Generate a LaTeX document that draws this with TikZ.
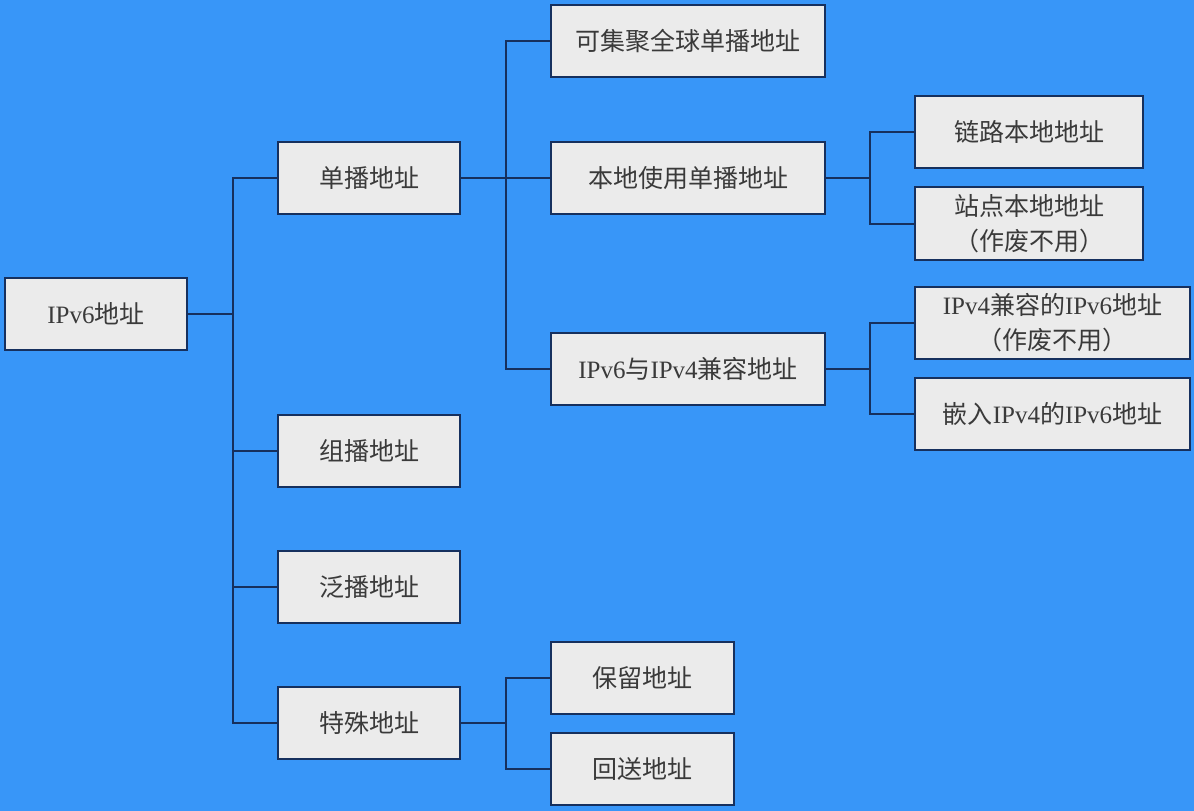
\documentclass[tikz,border=0pt]{standalone}
\usepackage{fontspec}
\setmainfont{Noto Sans CJK SC}
\newfontfamily\enf{Liberation Serif}
\newcommand\en[1]{{\enf #1}}
\definecolor{bg}{HTML}{3896F8}
\definecolor{boxfill}{HTML}{EBEBEB}
\definecolor{edge}{HTML}{16305E}
\definecolor{txt}{HTML}{3A3A3A}
\tikzset{
  box/.style={draw=edge, line width=2pt, fill=boxfill, text=txt, inner sep=0pt,
    align=center, font=\fontsize{25}{35}\selectfont},
  link/.style={draw=edge, line width=2pt},
}
\begin{document}
\begin{tikzpicture}[x=1pt,y=-1pt]
\fill[bg] (0,0) rectangle (1194,811);
\useasboundingbox (0,0) rectangle (1194,811);
% level 0
\node[box, minimum width=182pt, minimum height=72pt] (root) at (96,314) {\en{IPv6}地址};
% level 1
\node[box, minimum width=182pt, minimum height=72pt] (uni) at (369,178) {单播地址};
\node[box, minimum width=182pt, minimum height=72pt] (multi) at (369,451) {组播地址};
\node[box, minimum width=182pt, minimum height=72pt] (any) at (369,587) {泛播地址};
\node[box, minimum width=182pt, minimum height=72pt] (spec) at (369,723) {特殊地址};
% level 2
\node[box, minimum width=274pt, minimum height=72pt] (glob) at (688,41) {可集聚全球单播地址};
\node[box, minimum width=274pt, minimum height=72pt] (local) at (688,178) {本地使用单播地址};
\node[box, minimum width=274pt, minimum height=72pt] (compat) at (688,369) {\en{IPv6}与\en{IPv4}兼容地址};
\node[box, minimum width=183pt, minimum height=72pt] (resv) at (642.5,678) {保留地址};
\node[box, minimum width=183pt, minimum height=72pt] (loop) at (642.5,769) {回送地址};
% level 3
\node[box, minimum width=228pt, minimum height=72pt] (link) at (1029,132) {链路本地地址};
\node[box, minimum width=228pt, minimum height=73pt] (site) at (1029,223.5) {站点本地地址\\（作废不用）};
\node[box, minimum width=275pt, minimum height=72pt] (v4c) at (1052.5,323) {\en{IPv4}兼容的\en{IPv6}地址\\（作废不用）};
\node[box, minimum width=275pt, minimum height=72pt] (emb) at (1052.5,414) {嵌入\en{IPv4}的\en{IPv6}地址};
% junction coordinates
\coordinate (j0) at (233,314);
\coordinate (j1) at (506,178);
\coordinate (j2) at (870,178);
\coordinate (j3) at (870,369);
\coordinate (j4) at (506,723);
% connectors
\draw[link] (root.east) -- (j0);
\draw[link] (uni.west) -| (j0) |- (spec.west);
\draw[link] (j0 |- multi.west) -- (multi.west);
\draw[link] (j0 |- any.west) -- (any.west);
\draw[link] (uni.east) -- (j1);
\draw[link] (glob.west) -| (j1) |- (compat.west);
\draw[link] (j1) -- (local.west);
\draw[link] (local.east) -- (j2);
\draw[link] (link.west) -| (j2) |- (site.west);
\draw[link] (compat.east) -- (j3);
\draw[link] (v4c.west) -| (j3) |- (emb.west);
\draw[link] (spec.east) -- (j4);
\draw[link] (resv.west) -| (j4) |- (loop.west);
\end{tikzpicture}
\end{document}
